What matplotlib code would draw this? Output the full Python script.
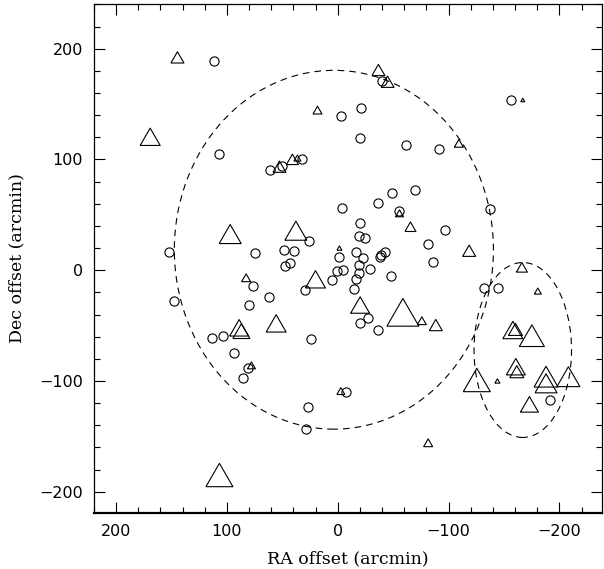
import matplotlib
matplotlib.use("Agg")
import matplotlib.pyplot as plt
from matplotlib.patches import Ellipse
import numpy as np

# circles (RA offset, Dec offset) in arcmin
circ_ra = [111.5, 107.3, -2.8, 61.6, 49.9, 32.4, -3.7, 25.8, 152.2, 74.8, 48.1, 39.4,
           -1.5, 47.2, 43.0, 76.1, 29.2, 4.8, 0.8, -4.6, 62.5, 80.0, 147.4, 113.4,
           103.4, 24.0, 93.5, 81.1, 85.1, -7.0, 26.7, 28.8, -39.8, -156.2, -21.4,
           -20.5, -61.5, -91.5, -48.8, -70.1, -36.5, -137.5, -55.7, -20.5, -96.9,
           -19.3, -24.5, -81.9, -16.3, -23.2, -38.9, -42.8, -38.3, -19.0, -19.0,
           -29.2, -16.6, -48.5, -86.4, -15.1, -27.2, -20.2, -36.7, -132.4, -145.0,
           -191.4]
circ_dec = [188.8, 104.6, 139.5, 90.5, 94.4, 100.1, 55.9, 26.1, 16.7, 15.3, 18.2, 17.3,
            12.2, 3.8, 6.2, -14.0, -17.9, -8.8, -0.5, 0.2, -23.9, -31.1, -27.5, -61.2,
            -59.4, -62.4, -74.5, -88.6, -97.6, -109.7, -123.2, -143.1, 171.1, 153.7, 146.5,
            119.6, 112.8, 109.4, 69.4, 72.7, 60.7, 55.5, 53.5, 42.9, 36.0,
            30.9, 28.8, 23.7, 16.2, 10.7, 13.7, 16.2, 11.6, 4.7, -2.8,
            0.8, -8.2, -5.2, 7.4, -17.2, -42.9, -48.0, -54.3, -15.8, -15.8,
            -116.9]

# triangles (RA, Dec) and symbol size
tri_ra = [144.7, 169.3, 18.3, 52.6, 40.9, 36.4, 97.1, 37.8, -1.5, 82.7, 20.1, 55.6,
          89.0, 87.0, 77.9, -2.8, 106.8, -36.7, -44.9, -167.0, -109.3, -55.7, -65.6,
          -118.6, -20.2, -58.8, -75.9, -88.5, -166.2, -180.6, -158.0, -160.4, -175.2,
          -125.5, -144.1, -160.7, -161.6, -188.0, -188.0, -208.2, -173.0, -81.6]
tri_dec = [192.2, 120.5, 144.6, 93.5, 100.1, 101.3, 32.7, 35.7, 20.0, -6.8, -8.2, -48.0,
           -52.0, -55.0, -85.9, -109.1, -184.9, 180.8, 170.2, 153.7, 114.6, 51.4, 39.3,
           17.6, -31.4, -38.0, -45.6, -49.5, 2.6, -18.8, -54.0, -53.4, -59.1,
           -99.1, -100.0, -87.1, -91.6, -96.1, -102.1, -96.1, -121.1, -155.8]
tri_size = [13, 20, 9, 13, 12, 7, 22, 22, 5, 9, 20, 20,
            19, 17, 8, 8, 27, 13, 13, 4, 9, 8, 11,
            13, 19, 32, 9, 13, 11, 7, 20, 14, 25,
            27, 5, 19, 14, 24, 22, 23, 18, 9]

# dashed ellipses: centre, full width, full height (arcmin)
ell_centre = [(3.5, 18.5), (-167.0, -72.0)]
ell_width = [288.0, 88.0]
ell_height = [324.0, 158.0]

# equilateral open triangle
h = np.sqrt(3) / 2
tri_marker = [(-1, -h), (1, -h), (0, h), (-1, -h)]

fig = plt.figure(figsize=(6.04, 5.69), dpi=100)
ax = fig.add_axes([94/604, 1-513/569, 508/604, 509/569])

ms = np.array(tri_size) / 1.389
ax.scatter(tri_ra, tri_dec, s=ms**2, marker=tri_marker, facecolors="none",
           edgecolors="black", linewidths=0.8, zorder=3)
ax.plot(circ_ra, circ_dec, "o", ms=6.6, mfc="none", mec="black", mew=0.8, zorder=3)

for c, w, hh in zip(ell_centre, ell_width, ell_height):
    ax.add_patch(Ellipse(c, w, hh, fill=False, ls=(0, (6, 4.5)), lw=0.8, color="black"))

ax.set_xlim(220, -238.5)
ax.set_ylim(-219.2, 240.4)
ax.set_xticks([200, 100, 0, -100, -200])
ax.set_yticks([-200, -100, 0, 100, 200])
ax.set_xticks(np.arange(-220, 221, 20), minor=True)
ax.set_yticks(np.arange(-200, 241, 20), minor=True)
ax.tick_params(which="both", direction="in", top=True, right=True, labelsize=11.5)
ax.tick_params(which="major", length=8, width=0.8, pad=8)
ax.tick_params(which="minor", length=4, width=0.8)
for s in ax.spines.values():
    s.set_linewidth(0.9)
ax.spines["bottom"].set_linewidth(1.6)

ax.set_xlabel("RA offset (arcmin)", family="DejaVu Serif", fontsize=12.5, labelpad=8)
ax.set_ylabel("Dec offset (arcmin)", family="DejaVu Serif", fontsize=12.5, labelpad=10)

fig.savefig("out.png", dpi=100)
